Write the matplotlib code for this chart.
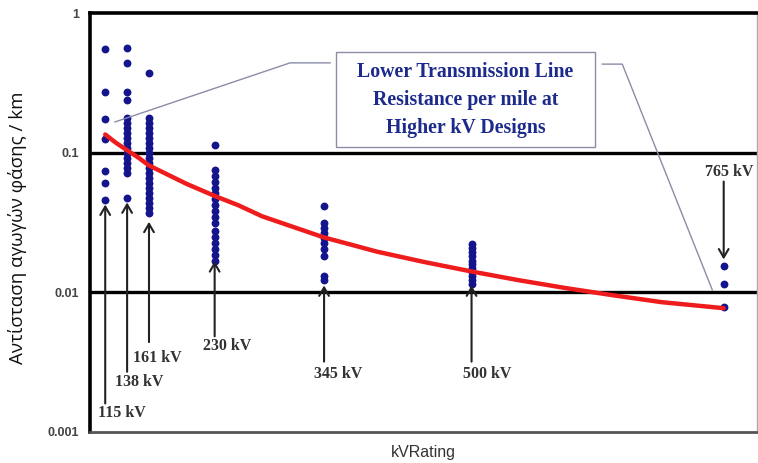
import matplotlib
matplotlib.use("Agg")
import matplotlib.pyplot as plt
from matplotlib.patches import Rectangle
from matplotlib.lines import Line2D

# ---------------- data ----------------
kv_115 = [0.55, 0.27, 0.175, 0.125, 0.074, 0.061, 0.046]
kv_138 = [0.56, 0.437, 0.274, 0.239, 0.177, 0.163, 0.150, 0.138, 0.127, 0.117,
          0.108, 0.0996, 0.0917, 0.0844, 0.0776, 0.0715, 0.0474]
kv_161 = [0.371, 0.177, 0.163, 0.150, 0.138, 0.127, 0.117, 0.108, 0.0996, 0.0917,
          0.0844, 0.0776, 0.0715, 0.0658, 0.0606, 0.0557, 0.0513, 0.0472, 0.0435,
          0.0400, 0.0368]
kv_230 = [0.114, 0.0755, 0.0685, 0.0621, 0.0563, 0.0511, 0.0464, 0.0420, 0.0381,
          0.0346, 0.0314, 0.0275, 0.0249, 0.0226, 0.0205, 0.0186, 0.0168]
kv_345 = [0.0414, 0.0315, 0.0289, 0.0266, 0.0245, 0.0225, 0.0204, 0.0182, 0.0131, 0.0123]
kv_500 = [0.0221, 0.0206, 0.0193, 0.0181, 0.0169, 0.0159, 0.0149, 0.0139, 0.0131,
          0.0122, 0.0115]
kv_765 = [0.0154, 0.0115, 0.0078]

groups = {115: kv_115, 138: kv_138, 161: kv_161, 230: kv_230,
          345: kv_345, 500: kv_500, 765: kv_765}

trend_kv = [115, 126, 138, 150, 161, 180, 200, 230, 255, 280, 310, 345, 375, 400,
            450, 500, 550, 600, 650, 700, 765]
trend_r = [0.135, 0.118, 0.104, 0.092, 0.081, 0.070, 0.060, 0.049, 0.042, 0.035,
           0.0298, 0.0247, 0.0218, 0.0196, 0.0165, 0.0141, 0.0122, 0.0107, 0.0095,
           0.0085, 0.0077]

# voltage labels: (text, arrow kV, arrow tail value, arrow tip value, label kV, label value)
labels = [
    ("115 kV", 115, 0.00160, 0.0425, 133, 0.00136),
    ("138 kV", 138, 0.00270, 0.0440, 151, 0.00228),
    ("161 kV", 161, 0.00440, 0.0320, 170, 0.00340),
    ("230 kV", 230, 0.00484, 0.0167, 243, 0.00410),
    ("345 kV", 345, 0.00319, 0.0112, 360, 0.00259),
    ("500 kV", 500, 0.00319, 0.0112, 516, 0.00259),
]
label_765 = ("765 kV", 765, 0.0621, 0.0172, 771, 0.073)

yticks = [0.001, 0.01, 0.1, 1]
yticklabels = ["0.001", "0.01", "0.1", "1"]
box_lines = ["Lower Transmission Line", "Resistance per mile at", "Higher kV Designs"]

# ---------------- figure ----------------
fig = plt.figure(figsize=(7.58, 4.63), dpi=100)
ax = fig.add_axes([90 / 758, 1 - 432 / 463, 667 / 758, 419 / 463])
ax.set_yscale("log")
ax.set_ylim(0.001, 1)
ax.set_xlim(99, 800)

dot_color = "#14148c"
for kv, vals in groups.items():
    ax.scatter([kv] * len(vals), vals, s=32, color=dot_color, zorder=3, linewidths=0)

ax.plot(trend_kv, trend_r, color="#ee1c1c", lw=3.2, zorder=4, solid_capstyle="round",
        solid_joinstyle="round")

# gridlines
for v in [0.01, 0.1]:
    ax.axhline(v, color="black", lw=2.4, zorder=2)

# spines
ax.spines["top"].set_color("black")
ax.spines["top"].set_linewidth(2.6)
ax.spines["left"].set_color("black")
ax.spines["left"].set_linewidth(2.6)
ax.spines["bottom"].set_color("#555555")
ax.spines["bottom"].set_linewidth(2.0)
ax.spines["right"].set_color("#aaaaaa")
ax.spines["right"].set_linewidth(1.0)

ax.set_xticks([])
ax.minorticks_off()
ax.set_yticks(yticks)
ax.set_yticklabels(yticklabels, family="Liberation Sans", fontweight="bold",
                   fontsize=9, color="#444444")
ax.tick_params(axis="y", length=0, pad=8)

# arrows and voltage labels
serif = "Liberation Serif"
arrow_kw = dict(arrowstyle="->,head_length=0.6,head_width=0.35", lw=1.5, color="#222222",
                shrinkA=0, shrinkB=0)
for text, kv, tail, tip, lx, ly in labels + [label_765]:
    ax.annotate("", xy=(kv, tip), xytext=(kv, tail), arrowprops=arrow_kw, zorder=5)
    ax.text(lx, ly, text, family=serif, fontweight="bold", fontsize=11.5,
            color="#333333", ha="center", va="center", zorder=6)

# callout box and leader lines
lead_col = "#8a8ca8"
box = Rectangle((0.369, 0.680), 0.388, 0.227, transform=ax.transAxes,
                facecolor="white", edgecolor=lead_col, lw=1.0, zorder=6)
ax.add_patch(box)
ax.add_line(Line2D([0.0375, 0.300, 0.360], [0.740, 0.881, 0.881],
                   transform=ax.transAxes, color=lead_col, lw=1.0, zorder=5))
ax.add_line(Line2D([0.768, 0.798, 0.933], [0.878, 0.878, 0.339],
                   transform=ax.transAxes, color=lead_col, lw=1.0, zorder=5))
for i, line in enumerate(box_lines):
    ax.text(0.563, 0.859 - i * 0.0665, line, transform=ax.transAxes, family=serif,
            fontweight="bold", fontsize=14.3, color="#1c2a8c", ha="center", va="center",
            zorder=7)

# axis titles
fig.text(18 / 758, 1 - 228 / 463, "Αντίσταση αγωγών φάσης / km", rotation=90,
         family="Open Sans", fontsize=13.5, color="#111111", ha="center", va="center")
fig.text(423 / 758, 1 - 452 / 463, "kVRating", family="Liberation Sans",
         fontsize=11.5, color="#333333", ha="center", va="center")

fig.savefig("out.png", dpi=100)
